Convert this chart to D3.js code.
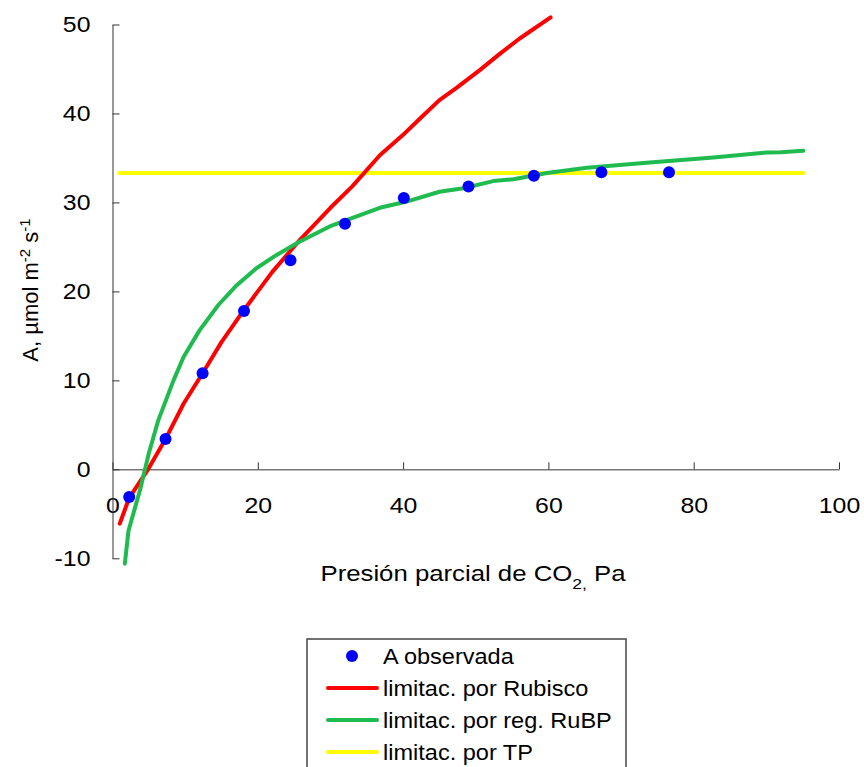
<!DOCTYPE html>
<html>
<head>
<meta charset="utf-8">
<script src="https://cdn.jsdelivr.net/npm/d3@7"></script>
<style>
  body { margin: 0; background: #fff; }
  text { font-family: "Liberation Sans", Arial, sans-serif; fill: #000; }
</style>
</head>
<body>
<svg id="chart" width="864" height="767"></svg>
<script>
// observed assimilation
const obsX = [2.3, 7.3, 12.4, 18.1, 24.5, 32.0, 40.1, 49.0, 58.0, 67.3, 76.6];
const obsY = [-3.1, 3.4, 10.8, 17.8, 23.5, 27.6, 30.5, 31.8, 33.0, 33.4, 33.4];

// Rubisco-limited curve
const rubX = [1, 2.3, 4.9, 7.3, 9.8, 12.4, 15, 18, 22, 25.8, 30, 33, 36.8, 40, 42.3, 45, 47.4, 50.6, 53.3, 56, 60.3];
const rubY = [-6.1, -3.2, 0, 3.4, 7.4, 10.8, 14.3, 17.8, 22.2, 25.8, 29.4, 31.8, 35.3, 37.6, 39.4, 41.5, 42.9, 44.9, 46.7, 48.4, 50.8];

// RuBP-regeneration-limited curve
const rubpX = [1.7, 2.2, 3.8, 5.0, 6.3, 8.4, 9.8, 12, 14.6, 17.1, 19.8, 22.6, 25.8, 29.9, 32.2, 36.8, 40.5, 45, 48.3, 52.4, 55.2, 59.8, 65.3, 73.5, 82.7, 90, 92, 95.1];
const rubpY = [-10.6, -6.9, -2.3, 1.8, 5.5, 10, 12.65, 15.65, 18.5, 20.7, 22.6, 24.1, 25.6, 27.3, 28, 29.4, 30.1, 31.2, 31.6, 32.4, 32.6, 33.3, 33.9, 34.45, 35.05, 35.6, 35.65, 35.8];

// triose-phosphate limit
const tpX = [0.9, 95.1];
const tpY = [33.3, 33.3];

const xTicks = [0, 20, 40, 60, 80, 100];
const yTicks = [-10, 0, 10, 20, 30, 40, 50];

const legendLabels = ["A observada", "limitac. por Rubisco", "limitac. por reg. RuBP", "limitac. por TP"];
const colors = { obs: "#0000ff", rub: "#ff0000", rubp: "#1fbb4f", tp: "#ffff00" };

const svg = d3.select("#chart");
const x = d3.scaleLinear().domain([0, 100]).range([112.5, 839]);
const y = d3.scaleLinear().domain([-10, 50]).range([558.3, 24.5]);

// text in the original is a bit stretched horizontally
const stretch = "scale(1.13,1)";

// axes
svg.append("g")
  .attr("transform", `translate(0,${y(0)})`)
  .call(d3.axisBottom(x).tickValues(xTicks).tickFormat(d => String(d))
    .tickSizeInner(-7).tickSizeOuter(0).tickPadding(28))
  .call(g => g.selectAll("path, line").attr("stroke", "#333"))
  .call(g => g.selectAll("text").style("font-size", "22px").attr("fill", "#000").attr("transform", stretch));

svg.append("g")
  .attr("transform", `translate(${x(0)},0)`)
  .call(d3.axisLeft(y).tickValues(yTicks).tickFormat(d => String(d))
    .tickSizeInner(-7).tickSizeOuter(0).tickPadding(19.5))
  .call(g => g.selectAll("path, line").attr("stroke", "#333"))
  .call(g => g.selectAll("text").style("font-size", "22px").attr("fill", "#000").attr("transform", stretch));

// lines
const line = d3.line().x(d => x(d[0])).y(d => y(d[1]));
const series = [
  { xs: tpX, ys: tpY, color: colors.tp },
  { xs: rubX, ys: rubY, color: colors.rub },
  { xs: rubpX, ys: rubpY, color: colors.rubp }
];
series.forEach(s => {
  svg.append("path")
    .datum(d3.zip(s.xs, s.ys))
    .attr("d", line)
    .attr("fill", "none")
    .attr("stroke", s.color)
    .attr("stroke-width", 4)
    .attr("stroke-linecap", "round")
    .attr("stroke-linejoin", "round");
});

// observed points
svg.append("g")
  .selectAll("circle")
  .data(d3.zip(obsX, obsY))
  .join("circle")
  .attr("cx", d => x(d[0]))
  .attr("cy", d => y(d[1]))
  .attr("r", 6)
  .attr("fill", colors.obs);

// axis titles
const xt = svg.append("text")
  .attr("transform", "translate(473,581) scale(1.17,1)")
  .attr("text-anchor", "middle")
  .style("font-size", "22px");
xt.append("tspan").text("Presión parcial de CO");
xt.append("tspan").attr("baseline-shift", "sub").style("font-size", "15px").text("2,");
xt.append("tspan").text("  Pa");

const yt = svg.append("text")
  .attr("transform", "translate(38,290) rotate(-90)")
  .attr("text-anchor", "middle")
  .style("font-size", "22px");
yt.append("tspan").text("A, µmol m");
yt.append("tspan").attr("baseline-shift", "super").style("font-size", "15px").text("-2");
yt.append("tspan").text(" s");
yt.append("tspan").attr("baseline-shift", "super").style("font-size", "15px").text("-1");

// legend
const lg = svg.append("g");
lg.append("rect")
  .attr("x", 307).attr("y", 639)
  .attr("width", 319).attr("height", 140)
  .attr("fill", "#fff")
  .attr("stroke", "#444")
  .attr("stroke-width", 1.5);

const rowY = [656, 688, 720, 752];
const legendColors = [colors.obs, colors.rub, colors.rubp, colors.tp];
legendLabels.forEach((lab, i) => {
  if (i === 0) {
    lg.append("circle").attr("cx", 352).attr("cy", rowY[i]).attr("r", 6).attr("fill", legendColors[i]);
  } else {
    lg.append("line")
      .attr("x1", 328).attr("x2", 377)
      .attr("y1", rowY[i]).attr("y2", rowY[i])
      .attr("stroke", legendColors[i])
      .attr("stroke-width", 4)
      .attr("stroke-linecap", "round");
  }
  lg.append("text")
    .attr("transform", `translate(383,${rowY[i] + 8}) scale(1.07,1)`)
    .style("font-size", "22px")
    .text(lab);
});
</script>
</body>
</html>
